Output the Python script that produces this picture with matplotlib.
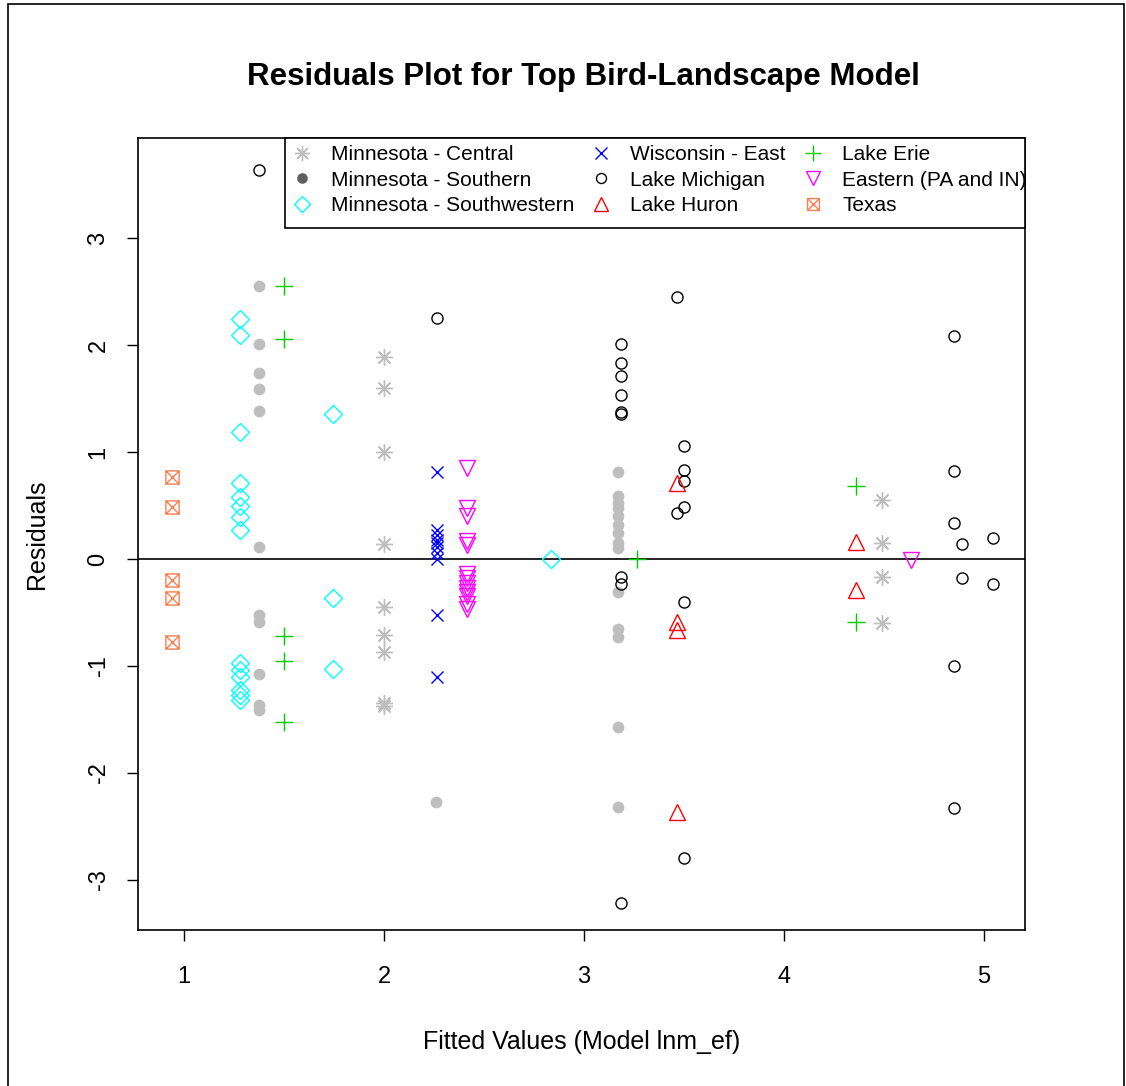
import matplotlib
matplotlib.use("Agg")
import matplotlib.pyplot as plt
from matplotlib.path import Path
from matplotlib.lines import Line2D
from matplotlib.patches import Rectangle

plt.rcParams['font.family'] = ['Liberation Sans', 'DejaVu Sans']

# ---------------- data ----------------
central_x = [2.0, 2.0, 2.0, 2.0, 2.0, 2.0, 2.0, 2.0, 2.0, 4.49, 4.49, 4.49, 4.49]
central_y = [1.89, 1.60, 1.00, 0.14, -0.45, -0.71, -0.87, -1.35, -1.37, 0.55, 0.15, -0.17, -0.60]

southern_x = [1.375, 1.375, 1.375, 1.375, 1.375, 1.375, 1.375, 1.375, 1.375, 1.375, 1.375,
              2.26,
              3.17, 3.17, 3.17, 3.17, 3.17, 3.17, 3.17, 3.17, 3.17, 3.17, 3.17, 3.17, 3.17, 3.17]
southern_y = [2.55, 2.01, 1.74, 1.59, 1.38, 0.11, -0.52, -0.59, -1.07, -1.36, -1.41,
              -2.27,
              0.81, 0.59, 0.52, 0.48, 0.40, 0.32, 0.24, 0.15, 0.10, -0.31, -0.65, -0.73, -1.57, -2.32]

southwest_x = [1.28, 1.28, 1.28, 1.28, 1.28, 1.28, 1.28, 1.28, 1.28, 1.28, 1.28, 1.28, 1.28, 1.28,
               1.745, 1.745, 1.745, 2.835]
southwest_y = [2.24, 2.09, 1.19, 0.71, 0.58, 0.50, 0.39, 0.27, -0.97, -1.04, -1.10, -1.22, -1.27, -1.32,
               1.36, -0.36, -1.03, 0.0]

wisconsin_x = [2.265, 2.265, 2.265, 2.265, 2.265, 2.265, 2.265, 2.265, 2.265, 2.265]
wisconsin_y = [0.81, 0.27, 0.22, 0.18, 0.15, 0.11, 0.06, 0.0, -0.52, -1.10]

michigan_x = [1.375, 2.265,
              3.185, 3.185, 3.185, 3.185, 3.185, 3.185, 3.185, 3.185, 3.185,
              3.465, 3.465,
              3.5, 3.5, 3.5, 3.5, 3.5, 3.5,
              4.85, 4.85, 4.85, 4.85, 4.85,
              4.89, 4.89, 5.045, 5.045]
michigan_y = [3.64, 2.25,
              2.01, 1.83, 1.71, 1.53, 1.37, 1.36, -0.17, -0.23, -3.21,
              2.45, 0.43,
              1.06, 0.83, 0.73, 0.49, -0.40, -2.79,
              2.08, 0.82, 0.34, -1.00, -2.33,
              0.14, -0.18, 0.20, -0.23]

huron_x = [3.465, 3.465, 3.465, 3.465, 4.36, 4.36]
huron_y = [0.71, -0.59, -0.66, -2.36, 0.16, -0.29]

erie_x = [1.5, 1.5, 1.5, 1.5, 1.5, 3.265, 4.36, 4.36]
erie_y = [2.55, 2.06, -0.72, -0.95, -1.52, 0.0, 0.68, -0.59]

eastern_x = [2.415, 2.415, 2.415, 2.415, 2.415, 2.415, 2.415, 2.415, 2.415, 2.415, 2.415, 2.415, 2.415, 4.635]
eastern_y = [0.85, 0.48, 0.40, 0.17, 0.13, -0.14, -0.18, -0.22, -0.27, -0.31, -0.35, -0.42, -0.47, -0.01]

texas_x = [0.94, 0.94, 0.94, 0.94, 0.94]
texas_y = [0.77, 0.49, -0.20, -0.36, -0.78]

labels = ["Minnesota - Central", "Minnesota - Southern", "Minnesota - Southwestern",
          "Wisconsin - East", "Lake Michigan", "Lake Huron",
          "Lake Erie", "Eastern (PA and IN)", "Texas"]
x_ticks = [1, 2, 3, 4, 5]
y_ticks = [-3, -2, -1, 0, 1, 2, 3]

# ---------------- figure ----------------
W, H = 1126, 1086
fig = plt.figure(figsize=(W / 100, H / 100), dpi=100)
ax = fig.add_axes([138 / W, 1 - 930 / H, (1025 - 138) / W, (930 - 138) / H])

# outer frame
fig.add_artist(Rectangle((8 / W, -0.01), (1124 - 8) / W, 1.01 - 4 / H, transform=fig.transFigure,
                         fill=False, edgecolor='black', linewidth=1.2))

# square-with-x marker (R pch 7)
sq_verts = [(-1, -1), (1, -1), (1, 1), (-1, 1), (-1, -1), (-1, -1), (1, 1), (-1, 1), (1, -1)]
sq_codes = [Path.MOVETO, Path.LINETO, Path.LINETO, Path.LINETO, Path.CLOSEPOLY,
            Path.MOVETO, Path.LINETO, Path.MOVETO, Path.LINETO]
sqx = Path(sq_verts, sq_codes)

mew = 1.0
styles = [
    dict(marker=(8, 2, 0), color='#BEBEBE', ms=12, mfc='none', mew=mew),
    dict(marker='o', color='#BEBEBE', ms=8.5, mfc='#BEBEBE', mew=0),
    dict(marker='D', color='#00FFFF', ms=9.5, mfc='none', mew=mew),
    dict(marker='x', color='#0000FF', ms=9, mfc='none', mew=mew),
    dict(marker='o', color='black', ms=8, mfc='none', mew=mew),
    dict(marker='^', color='#FF0000', ms=11, mfc='none', mew=mew),
    dict(marker='+', color='#00CD00', ms=13, mfc='none', mew=mew),
    dict(marker='v', color='#FF00FF', ms=11, mfc='none', mew=mew),
    dict(marker=sqx, color='#FF7F50', ms=9.5, mfc='none', mew=mew),
]
data = [(central_x, central_y), (southern_x, southern_y), (southwest_x, southwest_y),
        (wisconsin_x, wisconsin_y), (michigan_x, michigan_y), (huron_x, huron_y),
        (erie_x, erie_y), (eastern_x, eastern_y), (texas_x, texas_y)]

for (xs, ys), st in zip(data, styles):
    ax.plot(xs, ys, linestyle='none', marker=st['marker'], color=st['color'],
            markersize=st['ms'], markerfacecolor=st['mfc'], markeredgewidth=st['mew'],
            markeredgecolor=st['color'], clip_on=False, zorder=3)

ax.axhline(0, color='black', linewidth=1.2, zorder=2)

ax.set_xlim(0.77, 5.205)
ax.set_ylim(-3.467, 3.935)
ax.set_xticks(x_ticks)
ax.set_yticks(y_ticks)
ax.set_xticklabels([str(t) for t in x_ticks])
ax.set_yticklabels([str(t) for t in y_ticks], rotation=90, va='center')
ax.tick_params(axis='both', direction='out', length=8, width=1, labelsize=17, colors='black')
ax.tick_params(axis='x', pad=18)
ax.tick_params(axis='y', pad=12.5)
for sp in ax.spines.values():
    sp.set_linewidth(1.2)

ax.set_xlabel("Fitted Values (Model lnm_ef)", fontsize=18, labelpad=30)
ax.set_ylabel("Residuals", fontsize=18, labelpad=28)
fig.text(583 / W, 1 - 77 / H, "Residuals Plot for Top Bird-Landscape Model",
         fontsize=22.5, fontweight='bold', ha='center', va='center')

# legend box (frame drawn separately so its right edge sits on the axes edge)
bx0 = (285 - 138) / (1025 - 138)
by0 = (930 - 228) / (930 - 138)
ax.add_patch(Rectangle((bx0, by0), 1 - bx0, 1 - by0, transform=ax.transAxes,
                       facecolor='white', edgecolor='black', linewidth=1.2,
                       zorder=4, clip_on=False))

handles = []
for i, st in enumerate(styles):
    c = st['color']
    mfc = st['mfc']
    if i == 1:
        c = '#606060'
        mfc = '#606060'
    handles.append(Line2D([], [], linestyle='none', marker=st['marker'], color=c,
                          markersize=st['ms'] * 0.9, markerfacecolor=mfc,
                          markeredgecolor=c, markeredgewidth=st['mew']))
leg = ax.legend(handles, labels, ncol=3, loc='upper left',
                bbox_to_anchor=(bx0, 1 + 3 / 792), borderaxespad=0, fontsize=15,
                frameon=False, borderpad=0.5, labelspacing=0.3,
                handlelength=0.6, handletextpad=1.1, columnspacing=1.0)
leg.set_zorder(5)

fig.savefig("out.png", dpi=100)
